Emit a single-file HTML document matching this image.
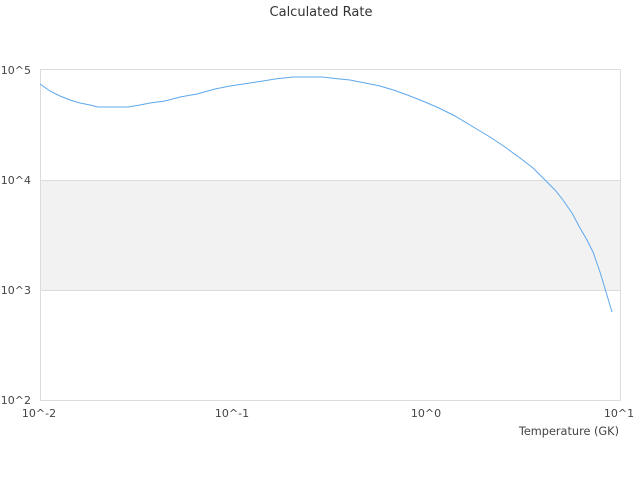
<!DOCTYPE html>
<html><head><meta charset="utf-8"><style>
html,body{margin:0;padding:0;background:#fff;}
svg{display:block;}
text{font-family:"DejaVu Sans","Liberation Sans",sans-serif;}
</style></head><body>
<svg width="640" height="480" viewBox="0 0 640 480" xmlns="http://www.w3.org/2000/svg">
<rect x="0" y="0" width="640" height="480" fill="#fff"/>
<text x="321" y="16" font-size="13" fill="#333" text-anchor="middle">Calculated Rate</text>
<rect x="40" y="180" width="580" height="110" fill="#f2f2f2"/>
<g stroke="#dcdcdc" stroke-width="1" fill="none">
<line x1="40" y1="69.5" x2="620.5" y2="69.5"/>
<line x1="40" y1="180.5" x2="620.5" y2="180.5"/>
<line x1="40" y1="290.5" x2="620.5" y2="290.5"/>
<line x1="40" y1="400.5" x2="620.5" y2="400.5"/>
<line x1="40.5" y1="69.5" x2="40.5" y2="400.5"/>
<line x1="620.5" y1="69.5" x2="620.5" y2="400.5"/>
</g>
<g font-size="11" fill="#444" text-anchor="end">
<text x="31" y="74">10^5</text>
<text x="31" y="184">10^4</text>
<text x="31" y="294">10^3</text>
<text x="31" y="404">10^2</text>
</g>
<g font-size="11" fill="#444" text-anchor="middle">
<text x="39" y="417">10^-2</text>
<text x="232" y="417">10^-1</text>
<text x="426" y="417">10^0</text>
<text x="619" y="417">10^1</text>
</g>
<text x="619" y="435" font-size="11.3" fill="#444" text-anchor="end">Temperature (GK)</text>
<polyline fill="none" stroke="#5ea8ee" stroke-width="1" points="40,84 50,91 60,96 70,100 80,103 90,105 98,107 110,107 128,107 140,105 150,103 165,101 180,97 197,94 215,89 230,86 250,83 263,81 275,79 293,77 322,77 335,78.5 350,80 365,83 380,86 395,90.5 410,96 425,102 439,108 455,116 475,128 490,137 505,147 520,158 533,168 545,180 548,183 555,190 563,200 572,213 580,228 587,240 593,252 600,272 606,292 612,312"/>
</svg>
</body></html>
